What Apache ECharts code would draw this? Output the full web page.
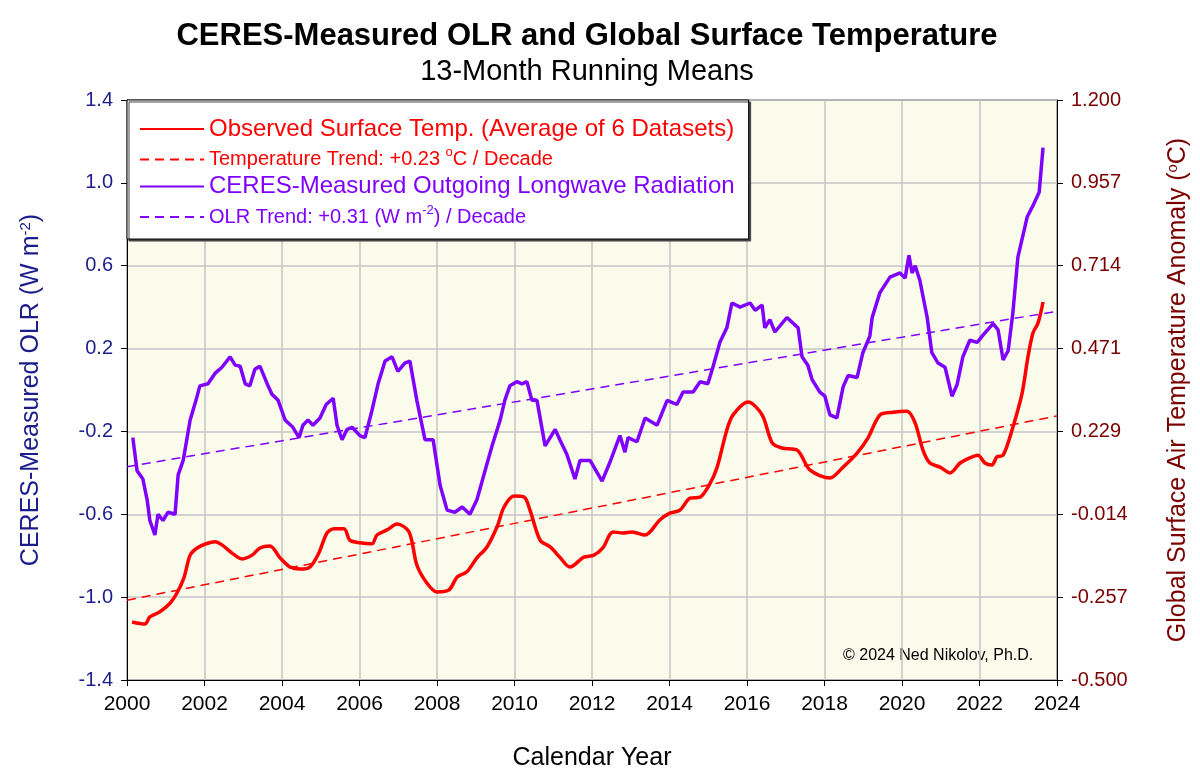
<!DOCTYPE html>
<html><head><meta charset="utf-8">
<script src="https://cdn.jsdelivr.net/npm/echarts@6/dist/echarts.min.js"></script>
<style>html,body{margin:0;background:#fff}#c{width:1200px;height:776px}</style>
</head><body><div id="c"></div>
<script>
const olrYears=[2000.15,2000.26,2000.41,2000.52,2000.59,2000.72,2000.80,2000.93,2001.06,2001.24,2001.32,2001.45,2001.63,2001.78,2001.88,2002.09,2002.27,2002.45,2002.66,2002.79,2002.92,2003.05,2003.17,2003.30,2003.43,2003.64,2003.74,2003.90,2004.08,2004.28,2004.44,2004.54,2004.67,2004.80,2004.98,2005.14,2005.32,2005.42,2005.55,2005.68,2005.81,2006.01,2006.14,2006.32,2006.48,2006.66,2006.84,2006.99,2007.17,2007.30,2007.48,2007.69,2007.90,2008.08,2008.26,2008.46,2008.65,2008.85,2009.03,2009.24,2009.42,2009.63,2009.75,2009.88,2010.06,2010.19,2010.32,2010.45,2010.58,2010.79,2010.92,2011.05,2011.17,2011.35,2011.56,2011.69,2011.82,2011.95,2012.26,2012.46,2012.72,2012.85,2012.93,2013.16,2013.37,2013.68,2013.94,2014.19,2014.35,2014.61,2014.79,2014.99,2015.12,2015.30,2015.48,2015.61,2015.82,2016.08,2016.21,2016.39,2016.46,2016.59,2016.72,2017.03,2017.32,2017.42,2017.57,2017.68,2017.88,2018.01,2018.14,2018.32,2018.48,2018.61,2018.84,2018.99,2019.17,2019.23,2019.43,2019.69,2019.95,2020.08,2020.18,2020.26,2020.34,2020.46,2020.65,2020.77,2020.93,2021.11,2021.29,2021.42,2021.57,2021.75,2021.94,2022.09,2022.35,2022.48,2022.61,2022.74,2022.86,2022.99,2023.23,2023.38,2023.54,2023.64];
const olrValues=[-0.23,-0.39,-0.43,-0.53,-0.63,-0.70,-0.60,-0.63,-0.59,-0.60,-0.41,-0.34,-0.145,-0.05,0.02,0.03,0.08,0.11,0.16,0.12,0.115,0.03,0.02,0.10,0.115,0.02,-0.02,-0.05,-0.145,-0.18,-0.23,-0.17,-0.145,-0.17,-0.135,-0.07,-0.04,-0.17,-0.24,-0.19,-0.18,-0.22,-0.23,-0.10,0.03,0.14,0.16,0.09,0.13,0.14,-0.05,-0.24,-0.24,-0.46,-0.58,-0.59,-0.565,-0.60,-0.53,-0.39,-0.27,-0.145,-0.05,0.02,0.04,0.03,0.04,-0.05,-0.05,-0.27,-0.23,-0.19,-0.24,-0.31,-0.43,-0.34,-0.34,-0.34,-0.44,-0.35,-0.22,-0.30,-0.23,-0.25,-0.135,-0.17,-0.05,-0.07,-0.01,-0.01,0.04,0.03,0.11,0.23,0.30,0.42,0.40,0.42,0.385,0.41,0.30,0.34,0.28,0.35,0.30,0.16,0.12,0.05,-0.01,-0.03,-0.12,-0.135,0.015,0.07,0.06,0.18,0.26,0.35,0.47,0.545,0.565,0.54,0.65,0.565,0.60,0.53,0.35,0.18,0.13,0.11,-0.03,0.025,0.16,0.24,0.23,0.265,0.32,0.29,0.145,0.19,0.37,0.64,0.835,0.89,0.955,1.17];
const tempYears=[2000.13,2000.46,2000.59,2000.85,2001.11,2001.29,2001.47,2001.63,2001.81,2002.06,2002.27,2002.45,2002.71,2002.97,2003.23,2003.43,2003.69,2003.95,2004.21,2004.46,2004.72,2004.95,2005.16,2005.34,2005.60,2005.75,2006.01,2006.32,2006.45,2006.71,2006.97,2007.28,2007.48,2007.74,2008.00,2008.31,2008.52,2008.77,2009.03,2009.29,2009.55,2009.73,2009.99,2010.25,2010.40,2010.66,2010.92,2011.17,2011.43,2011.79,2012.05,2012.28,2012.54,2012.80,2013.03,2013.37,2013.75,2014.01,2014.27,2014.53,2014.79,2015.05,2015.23,2015.48,2015.64,2016.03,2016.39,2016.65,2016.90,2017.29,2017.63,2018.14,2018.48,2018.84,2019.12,2019.43,2019.77,2020.13,2020.34,2020.54,2020.72,2020.98,2021.24,2021.50,2021.75,2021.96,2022.14,2022.32,2022.45,2022.61,2022.84,2023.10,2023.25,2023.38,2023.51,2023.64];
const tempValues=[-0.33,-0.336,-0.315,-0.30,-0.275,-0.245,-0.20,-0.134,-0.113,-0.10,-0.095,-0.104,-0.128,-0.145,-0.134,-0.113,-0.107,-0.142,-0.169,-0.175,-0.169,-0.128,-0.069,-0.057,-0.057,-0.09,-0.098,-0.101,-0.075,-0.06,-0.043,-0.066,-0.163,-0.216,-0.242,-0.236,-0.198,-0.183,-0.142,-0.110,-0.051,0.007,0.039,0.036,-0.002,-0.09,-0.11,-0.14,-0.169,-0.14,-0.134,-0.113,-0.066,-0.069,-0.066,-0.075,-0.031,-0.011,-0.002,0.033,0.036,0.077,0.124,0.233,0.277,0.315,0.277,0.195,0.18,0.174,0.115,0.092,0.124,0.165,0.209,0.277,0.285,0.288,0.253,0.174,0.136,0.124,0.107,0.136,0.151,0.159,0.136,0.130,0.154,0.159,0.233,0.341,0.447,0.517,0.546,0.608];
const olrTrendYears=[2000,2024];
const olrTrendValues=[-0.37,0.38];
const tempTrendYears=[2000,2024];
const tempTrendValues=[-0.266,0.274];
const leftTicks=[-1.4,-1.0,-0.6,-0.2,0.2,0.6,1.0,1.4];
const rightTicks=['-0.500','-0.257','-0.014','0.229','0.471','0.714','0.957','1.200'];
const xTicks=[2000,2002,2004,2006,2008,2010,2012,2014,2016,2018,2020,2022,2024];

const zip=(a,b)=>a.map((x,i)=>[x,b[i]]);
const F='Liberation Sans, Arial, sans-serif';
const RED='#ff0000', PUR='#7f00ff', NAVY='#1c1c8c', DRED='#7a0000';
const chart=echarts.init(document.getElementById('c'));
chart.setOption({
  animation:false,
  backgroundColor:'#fff',
  textStyle:{fontFamily:F},
  title:[
    {text:'CERES-Measured OLR and Global Surface Temperature',left:582,top:16,textAlign:'center',textStyle:{fontFamily:F,fontSize:31,fontWeight:'bold',color:'#000'}},
    {text:'13-Month Running Means',left:582,top:52,textAlign:'center',textStyle:{fontFamily:F,fontSize:29,fontWeight:'normal',color:'#000'}}
  ],
  grid:{left:127,right:143,top:100,bottom:96,show:true,backgroundColor:'#fbfbec',borderColor:'#000',borderWidth:1},
  legend:{
    orient:'vertical',left:127,top:100,width:623,padding:[17,14,12,12],itemGap:5,itemWidth:64,itemHeight:14,
    backgroundColor:'#fff',borderColor:'#000',borderWidth:1,
    shadowColor:'#444',shadowOffsetX:2,shadowOffsetY:2,shadowBlur:0,
    itemStyle:{color:'transparent',borderColor:'transparent',borderWidth:0},
    formatter:function(n){
      if(n==='t')return '{b|Observed Surface Temp. (Average of 6 Datasets)}';
      if(n==='tt')return '{s|Temperature Trend: +0.23 }{sup|o}{s|C / Decade}';
      if(n==='o')return '{b|CERES-Measured Outgoing Longwave Radiation}';
      return '{s|OLR Trend: +0.31 (W m}{sup|-2}{s|) / Decade}';
    },
    textStyle:{rich:{b:{fontSize:24,fontFamily:F,height:27},s:{fontSize:20,fontFamily:F,height:27},sup:{fontSize:13,fontFamily:F,verticalAlign:'top',padding:[0,0,9,0]}}},
    data:[
      {name:'t',textStyle:{color:RED}},
      {name:'tt',textStyle:{color:RED}},
      {name:'o',textStyle:{color:PUR}},
      {name:'ot',textStyle:{color:PUR}}
    ]
  },
  xAxis:{type:'value',min:2000,max:2024,interval:2,
    name:'Calendar Year',nameLocation:'middle',nameGap:66,nameTextStyle:{fontSize:25,color:'#000',fontFamily:F},
    axisLine:{onZero:false,lineStyle:{color:'#000'}},axisTick:{show:true,length:6,lineStyle:{color:'#000'}},
    axisLabel:{fontSize:21,color:'#000',margin:14,fontFamily:F,formatter:v=>String(v)},
    splitLine:{show:true,lineStyle:{color:'#c4c4c4',width:1.5}}},
  yAxis:[
    {type:'value',min:-1.4,max:1.4,interval:0.4,position:'left',
     name:'{a|CERES-Measured OLR (W m}{s|-2}{a|)}',nameLocation:'middle',nameGap:82,nameRotate:90,
     nameTextStyle:{color:NAVY,rich:{a:{fontSize:25,color:NAVY,fontFamily:F},s:{fontSize:15,color:NAVY,fontFamily:F,verticalAlign:'top',padding:[0,0,12,0]}}},
     axisLine:{show:true,onZero:false,lineStyle:{color:'#000'}},axisTick:{show:true,length:6,lineStyle:{color:'#000'}},
     axisLabel:{fontSize:20,color:NAVY,margin:14,fontFamily:F,formatter:v=>v.toFixed(1)},
     splitLine:{show:true,lineStyle:{color:'#c4c4c4',width:1.5}}},
    {type:'value',min:-0.5,max:1.2,interval:1.7/7,position:'right',
     name:'{a|Global Surface Air Temperature Anomaly (}{s|o}{a|C)}',nameLocation:'middle',nameGap:108,nameRotate:90,
     nameTextStyle:{color:DRED,rich:{a:{fontSize:25,color:DRED,fontFamily:F},s:{fontSize:15,color:DRED,fontFamily:F,verticalAlign:'top',padding:[0,0,12,0]}}},
     axisLine:{show:true,onZero:false,lineStyle:{color:'#000'}},axisTick:{show:true,length:6,lineStyle:{color:'#000'}},
     axisLabel:{fontSize:20,color:DRED,margin:14,fontFamily:F,formatter:(v,i)=>rightTicks[i]},
     splitLine:{show:false}}
  ],
  graphic:[{type:'text',left:843,top:648,style:{text:'© 2024 Ned Nikolov, Ph.D.',fontSize:16,fontFamily:F,fill:'#000'}}],
  series:[
    {name:'t',type:'line',yAxisIndex:1,data:zip(tempYears,tempValues),symbol:'none',smooth:0.3,lineStyle:{color:RED,width:3.5},itemStyle:{color:RED},z:4},
    {name:'tt',type:'line',yAxisIndex:1,data:zip(tempTrendYears,tempTrendValues),symbol:'none',lineStyle:{color:RED,width:1.5,type:[9,6]},itemStyle:{color:RED},z:3},
    {name:'o',type:'line',yAxisIndex:0,data:zip(olrYears,olrValues),symbol:'none',lineStyle:{color:PUR,width:3.5},itemStyle:{color:PUR},z:4},
    {name:'ot',type:'line',yAxisIndex:0,data:zip(olrTrendYears,olrTrendValues),symbol:'none',lineStyle:{color:PUR,width:1.5,type:[9,6]},itemStyle:{color:PUR},z:3}
  ]
});
</script></body></html>
